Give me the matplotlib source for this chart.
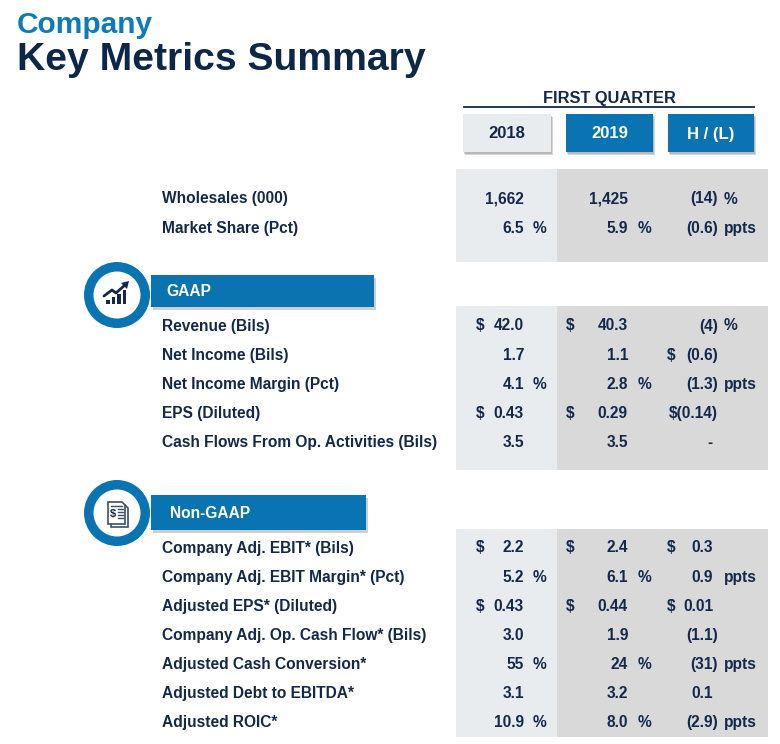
import matplotlib
matplotlib.use("Agg")
import matplotlib.pyplot as plt
from matplotlib.patches import Rectangle, Circle, Polygon

plt.rcParams['font.family'] = ['Liberation Sans', 'DejaVu Sans']

# ---------------- data ----------------
title_top = "Company"
title_main = "Key Metrics Summary"
period_label = "FIRST QUARTER"
col_headers = ["2018", "2019", "H / (L)"]

top_labels = ["Wholesales (000)", "Market Share (Pct)"]
top_2018 = ["1,662", "6.5"]
top_2019 = ["1,425", "5.9"]
top_cur = ["", ""]
top_unit = ["", "%"]
top_hl = ["(14)", "(0.6)"]
top_hl_cur = ["", ""]
top_hl_unit = ["%", "ppts"]

gaap_title = "GAAP"
gaap_labels = ["Revenue (Bils)", "Net Income (Bils)", "Net Income Margin (Pct)",
               "EPS (Diluted)", "Cash Flows From Op. Activities (Bils)"]
gaap_2018 = ["42.0", "1.7", "4.1", "0.43", "3.5"]
gaap_2019 = ["40.3", "1.1", "2.8", "0.29", "3.5"]
gaap_cur = ["$", "", "", "$", ""]
gaap_unit = ["", "", "%", "", ""]
gaap_hl = ["(4)", "(0.6)", "(1.3)", "$(0.14)", "-"]
gaap_hl_cur = ["", "$", "", "", ""]
gaap_hl_unit = ["%", "", "ppts", "", ""]

ng_title = "Non-GAAP"
ng_labels = ["Company Adj. EBIT* (Bils)", "Company Adj. EBIT Margin* (Pct)",
             "Adjusted EPS* (Diluted)", "Company Adj. Op. Cash Flow* (Bils)",
             "Adjusted Cash Conversion*", "Adjusted Debt to EBITDA*", "Adjusted ROIC*"]
ng_2018 = ["2.2", "5.2", "0.43", "3.0", "55", "3.1", "10.9"]
ng_2019 = ["2.4", "6.1", "0.44", "1.9", "24", "3.2", "8.0"]
ng_cur = ["$", "", "$", "", "", "", ""]
ng_unit = ["", "%", "", "", "%", "", "%"]
ng_hl = ["0.3", "0.9", "0.01", "(1.1)", "(31)", "0.1", "(2.9)"]
ng_hl_cur = ["$", "", "$", "", "", "", ""]
ng_hl_unit = ["", "ppts", "", "", "ppts", "", "ppts"]

# ---------------- style ----------------
NAVY = "#13284a"
BLUE = "#0a74b2"
LIGHT = "#e9ecef"
GRAY = "#d9d9d9"
FS = 11.2
DY = 1.0

fig = plt.figure(figsize=(7.8, 7.44), dpi=100)
ax = fig.add_axes([0, 0, 1, 1])
ax.set_xlim(0, 780)
ax.set_ylim(744, 0)
ax.axis("off")

# titles
ax.text(17, 25, title_top, fontsize=21.5, fontweight="bold", color="#0b7bbd",
        va="center", ha="left")
ax.text(17, 60, title_main, fontsize=28.2, fontweight="bold", color="#0c2748",
        va="center", ha="left")

# period header
ax.text(609, 98, period_label, fontsize=11.8, fontweight="bold", color=NAVY,
        ha="center", va="center")
ax.plot([464, 754], [107, 107], color=NAVY, lw=1.3)

boxes = [(463, 551, LIGHT, NAVY), (566, 653, BLUE, "white"), (668, 754, BLUE, "white")]
for (x0, x1, fc, tc), lab in zip(boxes, col_headers):
    ax.add_patch(Rectangle((x0 + 2, 117), x1 - x0, 38, facecolor="#8c8c8c",
                           alpha=0.35, lw=0, zorder=1))
    ax.add_patch(Rectangle((x0 + 1, 116), x1 - x0, 37.5, facecolor="#a0a0a0",
                           alpha=0.5, lw=0, zorder=1))
    ax.add_patch(Rectangle((x0, 114), x1 - x0, 38, facecolor=fc, lw=0, zorder=2))
    ax.text((x0 + x1) / 2, 134, lab, fontsize=12, fontweight="bold", color=tc,
            ha="center", va="center", zorder=3)

LBL_X = 162
C18_CUR, C18_NUM, C18_UNIT = 476, 524, 533
C19_CUR, C19_NUM, C19_UNIT = 566, 628, 638
HL_CUR, HL_NUM, HL_UNIT = 667, 718, 724
PAREN_W = 5


def section(y0, y1, ys, labels, v18, v19, cur, unit, hl, hlcur, hlunit):
    ax.add_patch(Rectangle((456, y0), 101, y1 - y0, facecolor=LIGHT, lw=0, zorder=0))
    ax.add_patch(Rectangle((557, y0), 211, y1 - y0, facecolor=GRAY, lw=0, zorder=0))
    for i, yy in enumerate(ys):
        y = yy + DY
        kw = dict(fontsize=FS, fontweight="bold", color=NAVY, va="center", zorder=3)
        ax.text(LBL_X, y, labels[i], ha="left", **kw)
        ax.text(C18_NUM, y, v18[i], ha="right", **kw)
        ax.text(C19_NUM, y, v19[i], ha="right", **kw)
        if cur[i]:
            ax.text(C18_CUR, y, cur[i], ha="left", **kw)
            ax.text(C19_CUR, y, cur[i], ha="left", **kw)
        if unit[i]:
            ax.text(C18_UNIT, y, unit[i], ha="left", **kw)
            ax.text(C19_UNIT, y, unit[i], ha="left", **kw)
        hv = hl[i]
        xr = HL_NUM if hv.endswith(")") else HL_NUM - PAREN_W
        ax.text(xr, y, hv, ha="right", **kw)
        if hlcur[i]:
            ax.text(HL_CUR, y, hlcur[i], ha="left", **kw)
        if hlunit[i]:
            ax.text(HL_UNIT, y, hlunit[i], ha="left", **kw)


def row_ys(first, n, step=29.1):
    return [first + k * step for k in range(n)]


section(169, 262, row_ys(198, len(top_labels)), top_labels, top_2018, top_2019,
        top_cur, top_unit, top_hl, top_hl_cur, top_hl_unit)
section(306, 470, row_ys(325, len(gaap_labels)), gaap_labels, gaap_2018, gaap_2019,
        gaap_cur, gaap_unit, gaap_hl, gaap_hl_cur, gaap_hl_unit)
section(529, 737, row_ys(547, len(ng_labels)), ng_labels, ng_2018, ng_2019,
        ng_cur, ng_unit, ng_hl, ng_hl_cur, ng_hl_unit)


def banner(x0, x1, ytop, ybot, text, tx):
    ax.add_patch(Rectangle((x0 + 2, ytop + 3), x1 - x0, ybot - ytop, facecolor="#777777",
                           alpha=0.35, lw=0, zorder=1))
    ax.add_patch(Rectangle((x0, ytop), x1 - x0, ybot - ytop, facecolor=BLUE, lw=0, zorder=2))
    ax.text(tx, (ytop + ybot) / 2 + 1, text, fontsize=11.2, fontweight="bold",
            color="white", ha="left", va="center", zorder=3)


def ring(cx, cy):
    ax.add_patch(Circle((cx, cy), 33, facecolor=BLUE, lw=0, zorder=4))
    ax.add_patch(Circle((cx, cy), 23.5, facecolor="white", lw=0, zorder=5))


banner(151, 374, 275, 307, gaap_title, 166)
ring(117, 295)
# GAAP icon: bars + rising arrow
cx, cy = 117, 295
bar_h = [4, 7, 10, 14]
for k, h in enumerate(bar_h):
    bx = cx - 11 + k * 5.5
    ax.add_patch(Rectangle((bx, cy + 9 - h), 3.6, h, facecolor=NAVY, lw=0, zorder=6))
ax.plot([cx - 13, cx - 5, cx - 1, cx + 8], [cy + 1, cy - 5, cy - 2, cy - 10],
        color=NAVY, lw=2, zorder=6, solid_capstyle="round")
ax.add_patch(Polygon([[cx + 12, cy - 14], [cx + 4, cy - 12], [cx + 10, cy - 6]],
                     closed=True, facecolor=NAVY, lw=0, zorder=6))

banner(151, 366, 495, 530, ng_title, 170)
ring(117, 513)
# Non-GAAP icon: stacked documents with $
cx, cy = 117, 513
for off in (3, 0):
    ax.add_patch(Polygon([[cx - 9 + off, cy - 11 + off], [cx + 5 + off, cy - 11 + off],
                          [cx + 8 + off, cy - 8 + off], [cx + 8 + off, cy + 11 + off],
                          [cx - 9 + off, cy + 11 + off]], closed=True,
                         facecolor="white", edgecolor="#3d4f6e", lw=1.2, zorder=6 + (3 - off)))
ax.text(cx - 4, cy + 1.5, "$", fontsize=8, fontweight="bold", color=NAVY,
        ha="center", va="center", zorder=10)
for k in range(4):
    ax.plot([cx + 0.5, cx + 5.5], [cy - 4 + k * 3, cy - 4 + k * 3], color="#3d4f6e",
            lw=1, zorder=10)
ax.plot([cx - 6, cx + 5], [cy - 7, cy - 7], color="#3d4f6e", lw=1, zorder=10)

fig.savefig("out.png", dpi=100)
